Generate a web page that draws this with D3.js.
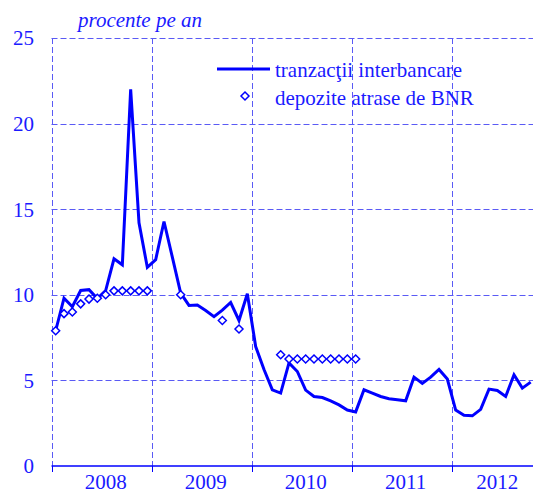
<!DOCTYPE html>
<html>
<head>
<meta charset="utf-8">
<script src="https://cdn.jsdelivr.net/npm/d3@7"></script>
<style>
  html, body { margin: 0; padding: 0; background: #fff; }
  svg { display: block; }
  text { font-family: "Liberation Serif", "Times New Roman", serif; fill: #1a1aff; }
</style>
</head>
<body>
<script>
// ---- data (monthly, starting January 2008) ----
const years = ["2008", "2009", "2010", "2011", "2012"];
const yearLabelMonth = [6, 18, 30, 42, 53];   // month index at which each year label sits
const yTicks = [0, 5, 10, 15, 20, 25];
const interbank = [
  7.9, 9.8, 9.3, 10.25, 10.3, 9.78, 10.25, 12.1, 11.75, 22.0, 14.2, 11.6,
  12.05, 14.28, 12.2, 10.1, 9.38, 9.4, 9.08, 8.72, 9.1, 9.55, 8.5, 10.06,
  6.98, 5.64, 4.45, 4.26, 6.02, 5.52, 4.43, 4.06, 4.0, 3.8, 3.57, 3.27,
  3.16, 4.45, 4.26, 4.06, 3.93, 3.87, 3.81, 5.19, 4.82, 5.19, 5.64, 5.08,
  3.27, 2.96, 2.93, 3.31, 4.49, 4.41, 4.06, 5.33, 4.55, 4.9
];
const depositMonths = [0, 1, 2, 3, 4, 5, 6, 7, 8, 9, 10, 11, 15, 20, 22, 27, 28, 29, 30, 31, 32, 33, 34, 35, 36];
const depositValues = [7.9, 8.9, 9.0, 9.47, 9.75, 9.8, 10.0, 10.23, 10.23, 10.23, 10.23, 10.23, 10.0, 8.5, 8.0, 6.5, 6.25, 6.25, 6.25, 6.25, 6.25, 6.25, 6.25, 6.25, 6.25];
const legendLabels = ["tranzacţii interbancare", "depozite atrase de BNR"];
const unitLabel = "procente pe an";

// ---- layout ----
const W = 533, H = 493;
const blue = "#0000ff", grid = "#5a5af5";

const svg = d3.select("body").append("svg").attr("width", W).attr("height", H);

const x = d3.scaleLinear().domain([0, 60]).range([51.5, 551.5]);
const y = d3.scaleLinear().domain([0, 25]).range([466, 38]);

// horizontal gridlines (above 0)
svg.append("g").selectAll("line").data(yTicks.filter(d => d > 0)).join("line")
  .attr("x1", x(0)).attr("x2", W)
  .attr("y1", d => Math.round(y(d)) + 0.5).attr("y2", d => Math.round(y(d)) + 0.5)
  .attr("stroke", grid).attr("stroke-width", 1).attr("stroke-dasharray", "6,3");

// vertical gridlines at year boundaries
const yearBounds = d3.range(0, 61, 12);
svg.append("g").selectAll("line").data(yearBounds).join("line")
  .attr("x1", d => Math.round(x(d)) + 0.5).attr("x2", d => Math.round(x(d)) + 0.5)
  .attr("y1", y(25)).attr("y2", y(0))
  .attr("stroke", grid).attr("stroke-width", 1).attr("stroke-dasharray", "6,3");

// x axis line + ticks
svg.append("line")
  .attr("x1", x(0)).attr("x2", W).attr("y1", y(0)).attr("y2", y(0))
  .attr("stroke", blue).attr("stroke-width", 1.5);
svg.append("g").selectAll("line").data(yearBounds).join("line")
  .attr("x1", d => Math.round(x(d)) + 0.5).attr("x2", d => Math.round(x(d)) + 0.5)
  .attr("y1", y(0)).attr("y2", y(0) + 6)
  .attr("stroke", blue).attr("stroke-width", 1);

// y tick labels
svg.append("g").selectAll("text").data(yTicks).join("text")
  .attr("x", 34).attr("y", d => y(d))
  .attr("dy", "0.35em")
  .attr("text-anchor", "end")
  .attr("font-size", 21)
  .text(d => d);

// year labels
svg.append("g").selectAll("text").data(years).join("text")
  .attr("x", (d, i) => x(yearLabelMonth[i] + 0.5))
  .attr("y", 489)
  .attr("text-anchor", "middle")
  .attr("font-size", 21)
  .text(d => d);

// unit label
svg.append("text")
  .attr("x", 78).attr("y", 27)
  .attr("font-size", 21).attr("font-style", "italic")
  .text(unitLabel);

// interbank line
const line = d3.line().x((d, i) => x(i + 0.5)).y(d => y(d));
svg.append("path").datum(interbank)
  .attr("d", line)
  .attr("fill", "none").attr("stroke", blue).attr("stroke-width", 3)
  .attr("stroke-linejoin", "miter");

// deposit diamonds
const diamond = (cx, cy, r) => `M${cx},${cy - r}L${cx + r},${cy}L${cx},${cy + r}L${cx - r},${cy}Z`;
svg.append("g").selectAll("path").data(depositValues).join("path")
  .attr("d", (d, i) => diamond(x(depositMonths[i] + 0.5), y(d), 4))
  .attr("fill", "#fff").attr("stroke", blue).attr("stroke-width", 1.5);

// legend
svg.append("line")
  .attr("x1", 217).attr("x2", 270).attr("y1", 69).attr("y2", 69)
  .attr("stroke", blue).attr("stroke-width", 3);
svg.append("text").attr("x", 275).attr("y", 77).attr("font-size", 21).text(legendLabels[0]);
svg.append("path").attr("d", diamond(245, 96, 4))
  .attr("fill", "#fff").attr("stroke", blue).attr("stroke-width", 1.5);
svg.append("text").attr("x", 275).attr("y", 105).attr("font-size", 21).text(legendLabels[1]);
</script>
</body>
</html>
